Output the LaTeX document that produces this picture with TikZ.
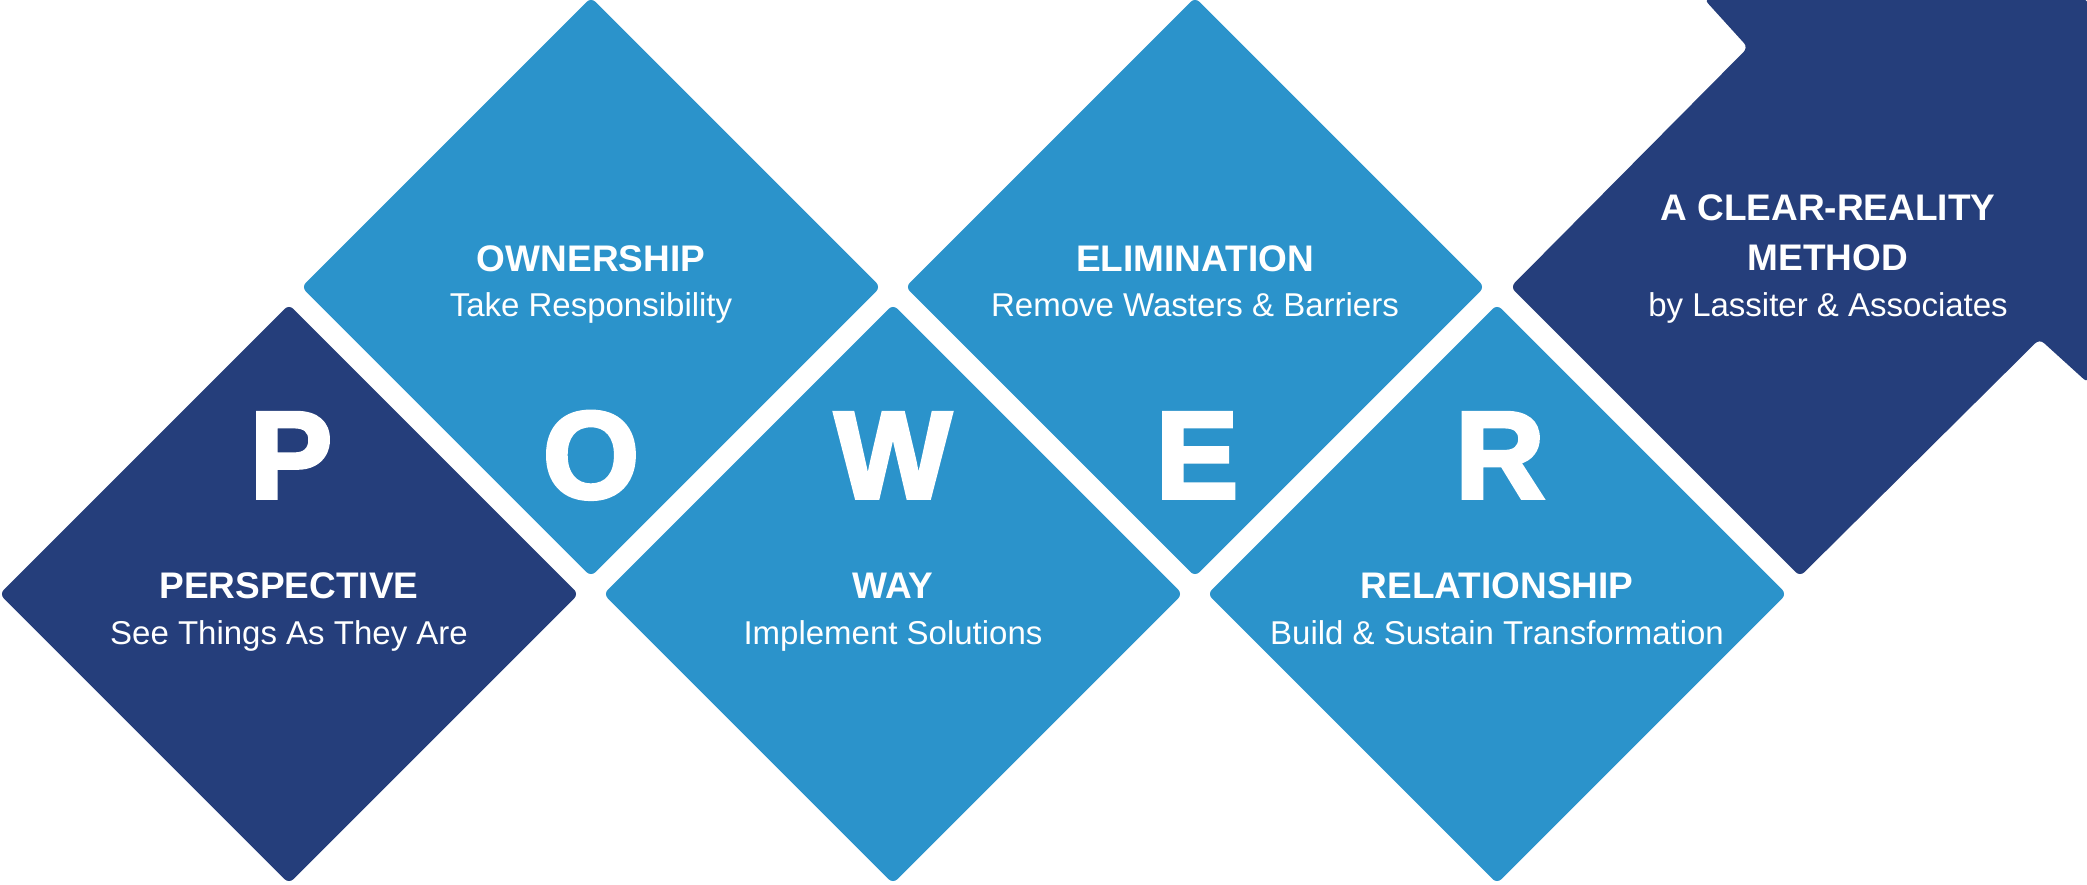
\documentclass[tikz,border=0pt]{standalone}
\usepackage{fontspec}
\setmainfont{Liberation Sans}
\newfontfamily\heavyfont{Liberation Sans}[BoldFeatures={FakeBold=3}]
\usetikzlibrary{shapes.geometric}
\definecolor{navy}{HTML}{253E7B}
\definecolor{sky}{HTML}{2B93CB}
\tikzset{
  dia/.style={shape=diamond, aspect=1, minimum width=579pt, minimum height=579pt,
    inner sep=0pt, outer sep=0pt, rounded corners=6pt, draw=none},
  bigletter/.style={anchor=base, text=white, font=\heavyfont\bfseries\fontsize{124}{124}\selectfont},
  ttl/.style={anchor=base, text=white, font=\bfseries\fontsize{37}{40}\selectfont},
  sub/.style={anchor=base, text=white, font=\fontsize{33}{36}\selectfont}
}
\begin{document}
\begin{tikzpicture}[x=1pt, y=-1pt]
\useasboundingbox (0,0) rectangle (2087,884);
\clip (0,0) rectangle (2087,884);
% diamonds
\node[dia, fill=navy] (dP) at (289,594) {};
\node[dia, fill=sky]  (dO) at (591,287) {};
\node[dia, fill=sky]  (dW) at (893,594) {};
\node[dia, fill=sky]  (dE) at (1195,287) {};
\node[dia, fill=sky]  (dR) at (1497,594) {};
% arrow
\fill[navy, rounded corners=6pt] (1510.5,287) -- (1748,47.5) -- (1704,-1) -- (2088,-1)
  -- (2088,383) -- (2039.5,339) -- (1800,576.5) -- cycle;
% big letters
\node[bigletter] (lP) at (291,498) {P};
\node[bigletter] (lO) at (591,498) {O};
\node[bigletter] (lW) at (893,498) {W};
\node[bigletter] (lE) at (1197,498) {E};
\node[bigletter] (lR) at (1500,498) {R};
% labels
\node[ttl] (tP) at (289,598) {PERSPECTIVE};
\node[sub] (sP) at (289,644) {See Things As They Are};
\node[ttl] (tO) at (591,271) {OWNERSHIP};
\node[sub] (sO) at (591,316) {Take Responsibility};
\node[ttl] (tW) at (893,598) {WAY};
\node[sub] (sW) at (893,644) {Implement Solutions};
\node[ttl] (tE) at (1195,271) {ELIMINATION};
\node[sub] (sE) at (1195,316) {Remove Wasters \& Barriers};
\node[ttl] (tR) at (1497,598) {RELATIONSHIP};
\node[sub] (sR) at (1497,644) {Build \& Sustain Transformation};
\node[ttl] (tA1) at (1828,220) {A CLEAR-REALITY};
\node[ttl] (tA2) at (1828,270) {METHOD};
\node[sub] (sA) at (1828,316) {by Lassiter \& Associates};
\end{tikzpicture}
\end{document}
